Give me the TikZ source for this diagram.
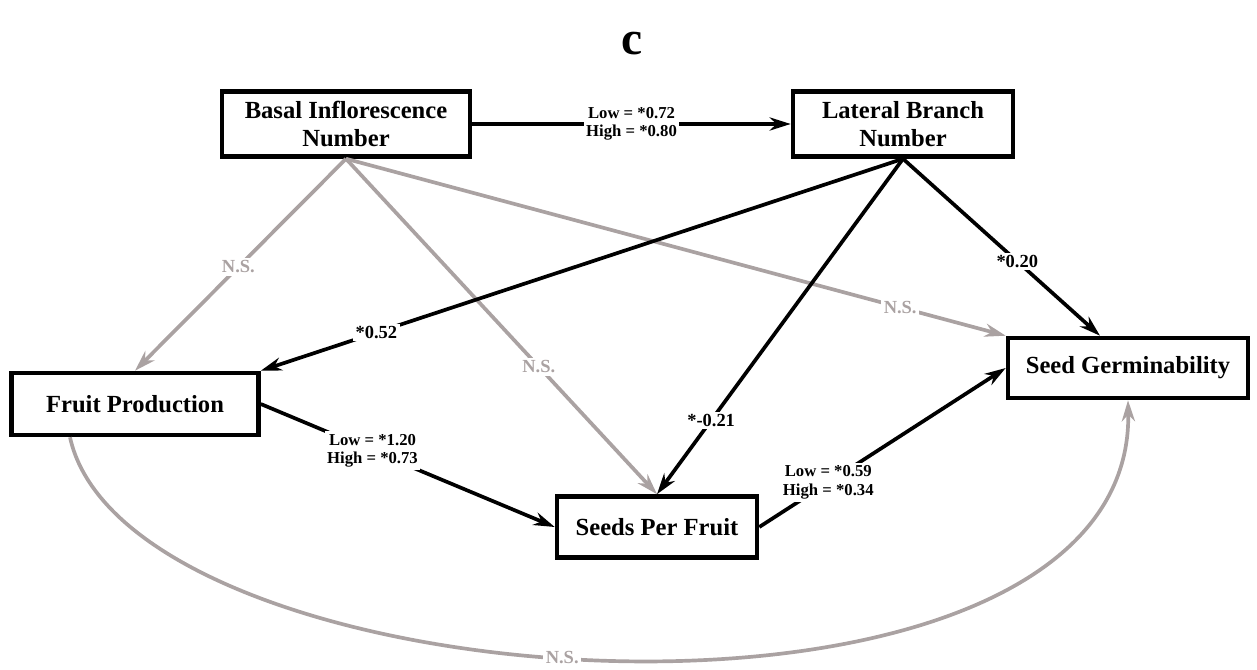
\documentclass[tikz,border=0pt]{standalone}
\usepackage{fontspec}
\setmainfont{Liberation Serif}
\usetikzlibrary{arrows.meta, positioning}
\definecolor{nscolor}{RGB}{170, 162, 162}

\begin{document}
\begin{tikzpicture}[
    varbox/.style={draw, line width=2.6pt, fill=white, inner sep=0pt, text centered, align=center, font=\fontsize{14}{16}\selectfont\bfseries},
    sig/.style={-{Stealth[length=12pt, width=7.5pt]}, line width=2.1pt},
    nonsig/.style={sig, draw=nscolor},
    coef/.style={fill=white, inner sep=1.5pt, font=\fontsize{10.5}{12}\selectfont\bfseries},
    nscoef/.style={coef, text=nscolor},
    twocoef/.style={coef, align=center, font=\fontsize{9.5}{10.5}\selectfont\bfseries}
]
\useasboundingbox (0, 0) rectangle (25.14, -13.4);

% Panel letter
\node[font=\fontsize{27}{29}\selectfont\bfseries] (panel) at (12.64, -0.88) {c};

% Top row
\node[varbox, minimum width=4.96cm, minimum height=1.3cm] (basal) at (6.92, -2.48) {Basal Inflorescence\\ Number};
\node[varbox, minimum width=4.4cm, minimum height=1.3cm] (lateral) at (18.06, -2.48) {Lateral Branch\\ Number};

% Middle and bottom rows
\node[varbox, minimum width=4.94cm, minimum height=1.24cm] (fruit) at (2.70, -8.08) {Fruit Production};
\node[varbox, minimum width=4.8cm, minimum height=1.2cm] (germ) at (22.56, -7.36) {Seed Germinability};
\node[varbox, minimum width=4.0cm, minimum height=1.22cm] (seeds) at (13.14, -10.54) {Seeds Per Fruit};

% Non-significant paths
\draw[nonsig] (basal.south) -- node[nscoef, pos=0.51] {N.S.} (fruit.north);
\draw[nonsig] (basal.south) -- node[nscoef, pos=0.62] {N.S.} (seeds.north);
\draw[nonsig] (basal.south) -- node[nscoef, pos=0.84] {N.S.} (germ.north west);
\draw[nonsig] ([xshift=-1.3cm]fruit.south) .. controls (2.6, -14.2) and (22.7, -15.4) .. node[nscoef, pos=0.46] {N.S.} (germ.south);

% Significant paths
\draw[sig] (basal.east) -- node[twocoef] {Low = *0.72\\ High = *0.80} (lateral.west);
\draw[sig] (lateral.south) -- node[coef, pos=0.82] {*0.52} (fruit.north east);
\draw[sig] (lateral.south) -- node[coef, pos=0.78] {*-0.21} (seeds.north);
\draw[sig] (lateral.south) -- node[coef, pos=0.58] {*0.20} ([xshift=-0.56cm]germ.north);
\draw[sig] (fruit.east) -- node[twocoef, pos=0.38] {Low = *1.20\\ High = *0.73} (seeds.west);
\draw[sig] (seeds.east) -- node[twocoef, pos=0.28] {Low = *0.59\\ High = *0.34} (germ.west);

\end{tikzpicture}
\end{document}
